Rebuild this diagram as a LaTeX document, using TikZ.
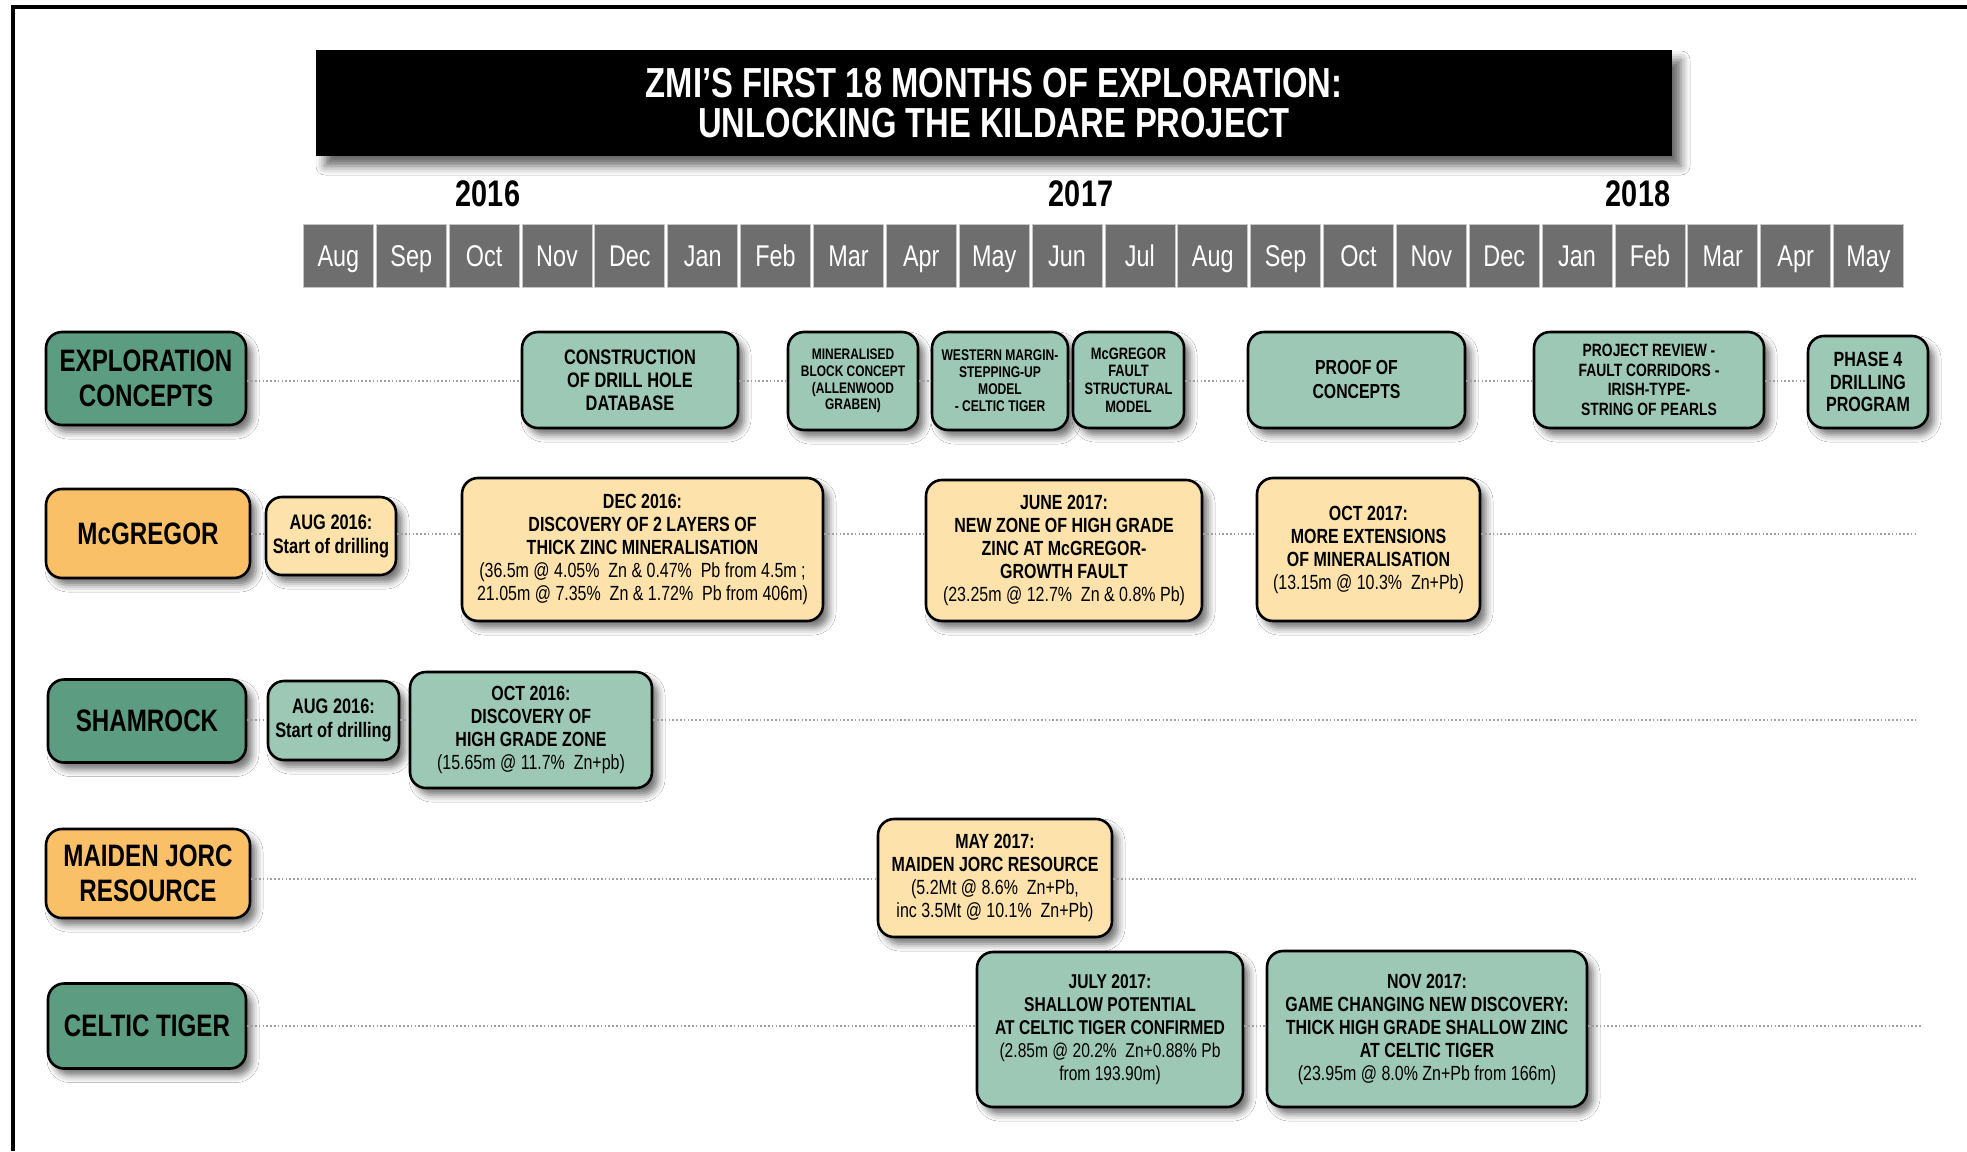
\documentclass[tikz,border=0pt]{standalone}
\usepackage{fontspec}
\setmainfont{Liberation Sans}[FakeStretch=0.78]
\usetikzlibrary{shadows.blur}

\definecolor{dkgreen}{RGB}{92,156,128}
\definecolor{ltgreen}{RGB}{158,200,182}
\definecolor{dkorange}{RGB}{250,192,104}
\definecolor{ltorange}{RGB}{253,226,172}
\definecolor{monthgray}{RGB}{110,110,110}
\definecolor{dotgray}{RGB}{160,160,160}

\newcommand{\regtxt}[1]{{\mdseries #1}}
\newcommand{\fs}[2]{\fontsize{#1pt}{#2pt}\selectfont\bfseries}

\tikzset{
  basebox/.style={draw=black, line width=2.6pt, rounded corners=16pt, align=center,
    inner sep=2pt,
    blur shadow={shadow xshift=6pt, shadow yshift=-7pt, shadow blur radius=7pt, shadow opacity=55}},
  labgreen/.style={basebox, fill=dkgreen, font=\fs{31}{35}},
  laborange/.style={basebox, fill=dkorange, font=\fs{31}{35}},
  evgreen/.style={basebox, fill=ltgreen},
  evorange/.style={basebox, fill=ltorange},
  monthbox/.style={fill=monthgray, draw=gray!45, line width=0.8pt, text=white,
    minimum width=70pt, minimum height=63pt, inner sep=0pt,
    font=\fontsize{30pt}{30pt}\selectfont, text height=21.5pt, text depth=0pt},
  yearlab/.style={font=\fs{37}{37}},
  rowline/.style={draw=dotgray, line width=2.2pt, dash pattern=on 1.6pt off 2.2pt},
}

\begin{document}
\begin{tikzpicture}[x=1pt,y=-1pt]
\useasboundingbox (0,0) rectangle (1967,1151);
\fill[white] (0,0) rectangle (1967,1151);

% frame
\draw[line width=4pt] (13,1151) -- (13,6.5) -- (1967,6.5);

% title
\node[fill=black, text=white, minimum width=1356pt, minimum height=106pt, inner sep=0pt,
  align=center, font=\fs{42}{40},
  blur shadow={shadow xshift=9pt, shadow yshift=-10pt, shadow blur radius=9pt, shadow opacity=60}]
  (title) at (994,103) {ZMI’S FIRST 18 MONTHS OF EXPLORATION:\\UNLOCKING THE KILDARE PROJECT};

% years
\node[yearlab] (y2016) at (488,194) {2016};
\node[yearlab] (y2017) at (1081,194) {2017};
\node[yearlab] (y2018) at (1638,194) {2018};

% months
\foreach \m [count=\i] in {Aug,Sep,Oct,Nov,Dec,Jan,Feb,Mar,Apr,May,Jun,Jul,Aug,Sep,Oct,Nov,Dec,Jan,Feb,Mar,Apr,May}
  \node[monthbox] (mo\i) at ({302+(\i-0.5)*72.86},255.5) {\m};

% row coordinates
\coordinate (exrow) at (0,381);
\coordinate (mgrow) at (0,534);
\coordinate (shrow) at (0,720);
\coordinate (mjrow) at (0,879);
\coordinate (ctrow) at (0,1026);
\coordinate (mgend) at (1916,534);
\coordinate (shend) at (1916,720);
\coordinate (mjend) at (1916,879);
\coordinate (ctend) at (1922,1026);

% left labels
\node[labgreen, minimum width=200pt, minimum height=93pt] (exlab) at (146,378.5) {EXPLORATION\\CONCEPTS};
\node[laborange, minimum width=204pt, minimum height=89pt] (mglab) at (148,533.5) {McGREGOR};
\node[labgreen, minimum width=198pt, minimum height=83pt] (shlab) at (147,721) {SHAMROCK};
\node[laborange, minimum width=204pt, minimum height=89pt] (mjlab) at (148,873.5) {MAIDEN JORC\\RESOURCE};
\node[labgreen, minimum width=198pt, minimum height=85pt] (ctlab) at (147,1026) {CELTIC TIGER};

% exploration concepts row
\node[evgreen, minimum width=216pt, minimum height=96pt, font=\fs{21}{23}] (e1) at (630,380)
  {CONSTRUCTION\\OF DRILL HOLE\\DATABASE};
\node[evgreen, minimum width=130pt, minimum height=98pt, font=\fs{15.3}{16.7}] (e2) at (853,381)
  {MINERALISED\\BLOCK CONCEPT\\(ALLENWOOD\\GRABEN)};
\node[evgreen, minimum width=136pt, minimum height=98pt, font=\fs{15.5}{17}] (e3) at (1000,381)
  {WESTERN MARGIN-\\STEPPING-UP\\MODEL\\- CELTIC TIGER};
\node[evgreen, minimum width=111pt, minimum height=96pt, font=\fs{16.5}{17.6}] (e4) at (1128.5,380)
  {McGREGOR\\FAULT\\STRUCTURAL\\MODEL};
\node[evgreen, minimum width=217pt, minimum height=96pt, font=\fs{20.3}{24}] (e5) at (1356.5,380)
  {PROOF OF\\CONCEPTS};
\node[evgreen, minimum width=230pt, minimum height=96pt, font=\fs{17.8}{19.7}] (e6) at (1649,380)
  {PROJECT REVIEW -\\FAULT CORRIDORS -\\IRISH-TYPE-\\STRING OF PEARLS};
\node[evgreen, minimum width=120pt, minimum height=92pt, font=\fs{20.6}{22.6}] (e7) at (1868,382)
  {PHASE 4\\DRILLING\\PROGRAM};

% McGregor row
\node[evorange, minimum width=130pt, minimum height=78pt, font=\fs{21}{24}] (m1) at (331,536)
  {AUG 2016:\\Start of drilling};
\node[evorange, minimum width=361pt, minimum height=143pt, font=\fs{20.5}{23}] (m2) at (642.5,549.5)
  {DEC 2016:\\DISCOVERY OF 2 LAYERS OF\\THICK ZINC MINERALISATION\\
   \regtxt{(36.5m @ 4.05\%~ Zn \& 0.47\%~ Pb from 4.5m ;}\\
   \regtxt{21.05m @ 7.35\%~ Zn \& 1.72\%~ Pb from 406m)}};
\node[evorange, minimum width=276pt, minimum height=141pt, font=\fs{20.5}{23}] (m3) at (1064,550.5)
  {JUNE 2017:\\NEW ZONE OF HIGH GRADE\\ZINC AT McGREGOR-\\GROWTH FAULT\\
   \regtxt{(23.25m @ 12.7\%~ Zn \& 0.8\% Pb)}};
\node[evorange, minimum width=223pt, minimum height=143pt, font=\fs{20.5}{23}] (m4) at (1368.5,549.5)
  {OCT 2017:\\MORE EXTENSIONS\\OF MINERALISATION\\
   \regtxt{(13.15m @ 10.3\%~ Zn+Pb)}};

% Shamrock row
\node[evgreen, minimum width=131pt, minimum height=79pt, font=\fs{21}{24}] (s1) at (333.5,720.5)
  {AUG 2016:\\Start of drilling};
\node[evgreen, minimum width=242pt, minimum height=116pt, font=\fs{20.5}{23}] (s2) at (531,730)
  {OCT 2016:\\DISCOVERY OF\\HIGH GRADE ZONE\\
   \regtxt{(15.65m @ 11.7\%~ Zn+pb)}};

% Maiden JORC row
\node[evorange, minimum width=234pt, minimum height=118pt, font=\fs{20.5}{23}] (j1) at (995,878)
  {MAY 2017:\\MAIDEN JORC RESOURCE\\
   \regtxt{(5.2Mt @ 8.6\%~ Zn+Pb,}\\
   \regtxt{inc 3.5Mt @ 10.1\%~ Zn+Pb)}};

% Celtic Tiger row
\node[evgreen, minimum width=266pt, minimum height=155pt, font=\fs{20}{23}] (c1) at (1110,1029.5)
  {JULY 2017:\\SHALLOW POTENTIAL\\AT CELTIC TIGER CONFIRMED\\
   \regtxt{(2.85m @ 20.2\%~ Zn+0.88\% Pb}\\
   \regtxt{from 193.90m)}};
\node[evgreen, minimum width=320pt, minimum height=156pt, font=\fs{20.5}{23}] (c2) at (1427,1029)
  {NOV 2017:\\GAME CHANGING NEW DISCOVERY:\\THICK HIGH GRADE SHALLOW ZINC\\AT CELTIC TIGER\\
   \regtxt{(23.95m @ 8.0\% Zn+Pb from 166m)}};

% dotted row connectors
\draw[rowline] (exlab.east |- exrow) -- (e1.west |- exrow);
\draw[rowline] (e1.east |- exrow) -- (e2.west |- exrow);
\draw[rowline] (e2.east |- exrow) -- (e3.west |- exrow);
\draw[rowline] (e3.east |- exrow) -- (e4.west |- exrow);
\draw[rowline] (e4.east |- exrow) -- (e5.west |- exrow);
\draw[rowline] (e5.east |- exrow) -- (e6.west |- exrow);
\draw[rowline] (e6.east |- exrow) -- (e7.west |- exrow);

\draw[rowline] (mglab.east |- mgrow) -- (m1.west |- mgrow);
\draw[rowline] (m1.east |- mgrow) -- (m2.west |- mgrow);
\draw[rowline] (m2.east |- mgrow) -- (m3.west |- mgrow);
\draw[rowline] (m3.east |- mgrow) -- (m4.west |- mgrow);
\draw[rowline] (m4.east |- mgrow) -- (mgend);

\draw[rowline] (shlab.east |- shrow) -- (s1.west |- shrow);
\draw[rowline] (s1.east |- shrow) -- (s2.west |- shrow);
\draw[rowline] (s2.east |- shrow) -- (shend);

\draw[rowline] (mjlab.east |- mjrow) -- (j1.west |- mjrow);
\draw[rowline] (j1.east |- mjrow) -- (mjend);

\draw[rowline] (ctlab.east |- ctrow) -- (c1.west |- ctrow);
\draw[rowline] (c1.east |- ctrow) -- (c2.west |- ctrow);
\draw[rowline] (c2.east |- ctrow) -- (ctend);
\end{tikzpicture}
\end{document}
